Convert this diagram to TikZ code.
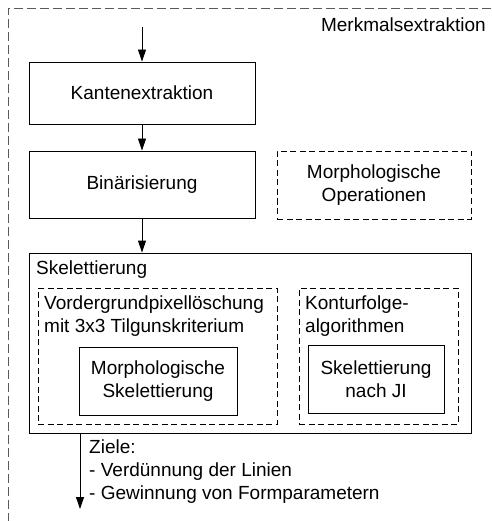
\documentclass[tikz,border=0pt]{standalone}
\usepackage{fontspec}
\setmainfont{Liberation Sans}
\usetikzlibrary{arrows.meta}
\begin{document}
\begin{tikzpicture}[x=1pt,y=-1pt,
  every node/.style={font=\fontsize{19}{23}\selectfont, inner sep=0pt},
  box/.style={draw, line width=0.9pt, rectangle, align=center},
  dbox/.style={draw, line width=0.9pt, rectangle, dash pattern=on 6pt off 3.5pt, align=center},
  txt/.style={align=left, anchor=north west},
  arr/.style={line width=0.9pt, -{Triangle[length=12pt,width=8pt]}}]
\useasboundingbox (0,0) rectangle (491,521);
% outer frame
\draw[line width=0.9pt, dash pattern=on 9pt off 4pt, gray!70!black] (491,8) -- (8,8) -- (8,521);
\node[anchor=east] (merk) at (486,25) {Merkmalsextraktion};
\coordinate (start) at (142,27);
\node[box, minimum width=226pt, minimum height=62pt] (kant) at (142,93) {Kantenextraktion};
\node[box, minimum width=226pt, minimum height=67pt] (bin) at (142,184.5) {Binärisierung};
\node[dbox, minimum width=194pt, minimum height=68pt] (morphop) at (374,185) {Morphologische\\Operationen};
\node[box, minimum width=442pt, minimum height=180pt] (skel) at (250,343) {};
\node[txt] (skellab) at (36,261) {Skelettierung};
\node[dbox, minimum width=239pt, minimum height=136pt] (vord) at (157.5,356) {};
\node[txt] (vordlab) at (44,296) {Vordergrundpixellöschung\\mit 3x3 Tilgunskriterium};
\node[box, minimum width=158pt, minimum height=68pt] (morphsk) at (158,381) {Morphologische\\Skelettierung};
\node[dbox, minimum width=159pt, minimum height=136pt] (kontur) at (378.5,356) {};
\node[txt] (konturlab) at (305,296) {Konturfolge-\\algorithmen};
\node[box, minimum width=136pt, minimum height=68pt] (ji) at (376,379) {Skelettierung\\nach JI};
\coordinate (end) at (80,509);
\node[txt] (ziele) at (89,440) {Ziele:\\- Verdünnung der Linien\\- Gewinnung von Formparametern};
\draw[arr] (start) -- (kant.north);
\draw[arr] (kant.south) -- (bin.north);
\draw[arr] (bin.south) -- (bin.south |- skel.north);
\draw[arr] (skel.south -| end) -- (end);
\end{tikzpicture}
\end{document}
